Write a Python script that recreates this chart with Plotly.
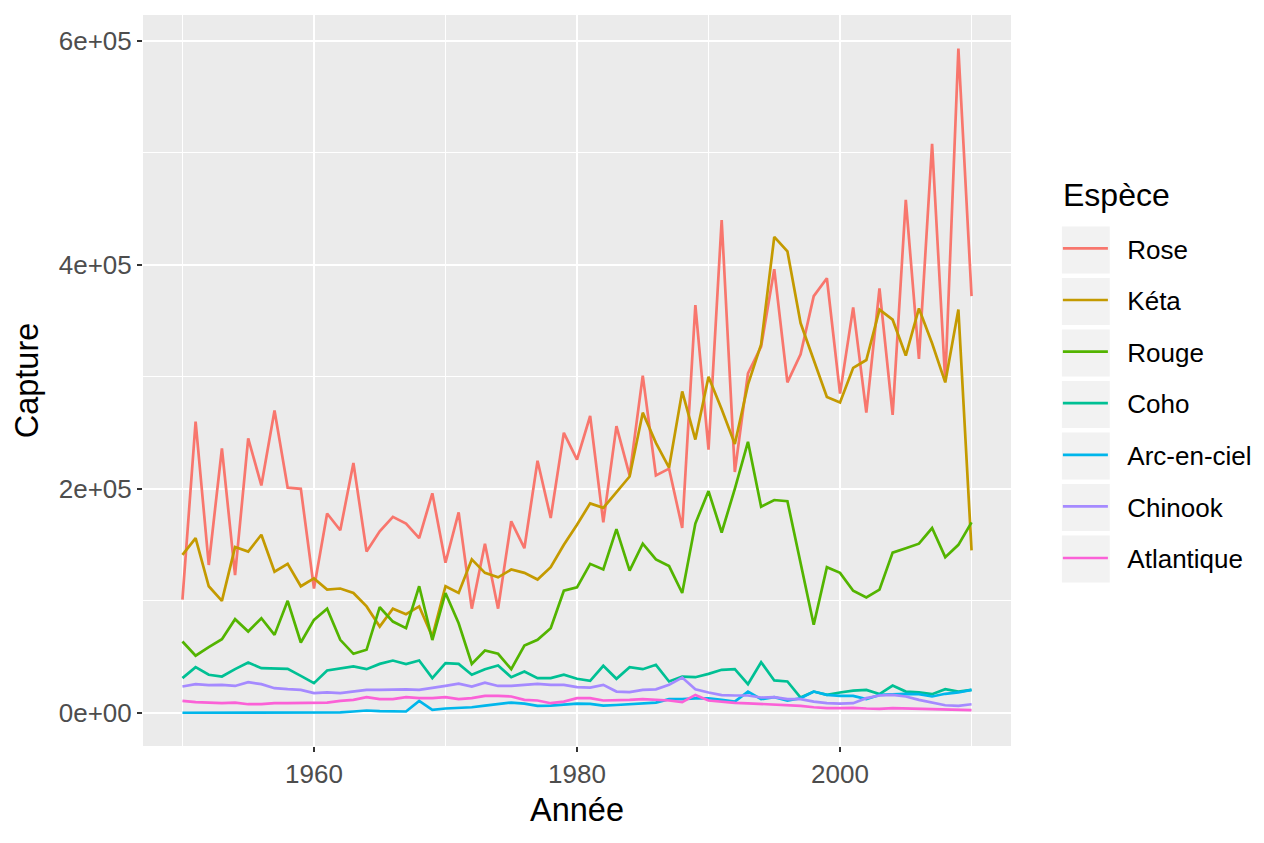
import plotly.graph_objects as go

years = list(range(1950, 2011))

species = ["Rose", "Kéta", "Rouge", "Coho", "Arc-en-ciel", "Chinook", "Atlantique"]
colors = ["#F8766D", "#C49A00", "#53B400", "#00C094", "#00B6EB", "#A58AFF", "#FB61D7"]

rose = [101000, 260000, 132000, 236000, 123000, 245000, 203000, 270000, 201000, 200000,
        111000, 178000, 163000, 223000, 144000, 162000, 175000, 169000, 156000, 196000,
        134000, 179000, 93000, 151000, 93000, 171000, 147000, 225000, 174000, 250000,
        226000, 265000, 170000, 256000, 212000, 301000, 212000, 218000, 165000, 364000,
        235000, 440000, 215000, 303000, 327000, 396000, 295000, 320000, 372000, 388000,
        285000, 362000, 268000, 379000, 266000, 458000, 316000, 508000, 296000, 593000,
        372000]

keta = [141000, 156000, 113000, 100000, 148000, 144000, 159000, 126000, 133000, 113000,
        120000, 110000, 111000, 107000, 95000, 77000, 93000, 88000, 95000, 68000,
        113000, 107000, 137000, 125000, 121000, 128000, 125000, 119000, 130000, 150000,
        168000, 187000, 183000, 197000, 211000, 268000, 241000, 219000, 287000, 244000,
        300000, 271000, 240000, 293000, 329000, 425000, 412000, 348000, 314000, 282000,
        277000, 308000, 315000, 360000, 351000, 319000, 361000, 330000, 295000, 360000,
        145000]

rouge = [63700, 51000, 58600, 65800, 83600, 72600, 84500, 69600, 100000, 62800,
         83000, 92900, 65200, 52700, 56300, 94300, 81500, 75600, 113000, 65000,
         107000, 80000, 43700, 55700, 52700, 39000, 60000, 65200, 75600, 109000,
         112000, 133000, 128000, 164000, 127000, 151000, 137000, 131000, 107000, 169000,
         198000, 161000, 200000, 242000, 184000, 190000, 189000, 135000, 78600, 130000,
         125000, 109000, 103000, 110000, 143000, 147000, 151000, 165000, 139000, 150000,
         170000]

coho = [31000, 40800, 34000, 32400, 39000, 44900, 39900, 39900, 39300, 33000,
        26500, 37800, 39900, 41400, 39000, 43700, 46700, 43500, 46700, 31000,
        44300, 43700, 34000, 39000, 42300, 31800, 36900, 31000, 31000, 34000,
        30400, 28600, 42000, 30400, 40800, 39000, 42900, 28000, 32400, 31800,
        34800, 38400, 39000, 25600, 45200, 28900, 28000, 13700, 19000, 16000,
        18200, 19900, 20500, 16700, 24400, 19000, 18200, 16700, 21100, 19000,
        20500]

arc_en_ciel = [100, 100, 150, 150, 200, 200, 200, 200, 250, 250,
               300, 300, 400, 1200, 2100, 1500, 1200, 1200, 10700, 2700,
               3900, 4500, 5000, 6500, 7700, 9200, 8300, 6200, 6500, 7700,
               8300, 8000, 6500, 7000, 7700, 8300, 9200, 12200, 12200, 13000,
               13000, 11600, 10000, 19000, 12200, 14000, 11000, 13000, 19000, 16000,
               15200, 15200, 12200, 16000, 16700, 17000, 16700, 14600, 17000, 18200,
               20500]

chinook = [23500, 25600, 24700, 25000, 24000, 27400, 25600, 22000, 21100, 20500,
           17600, 18200, 17600, 19000, 20500, 20500, 21000, 21000, 20500, 22000,
           24000, 26000, 23500, 27000, 24000, 24000, 25000, 25900, 25000, 25000,
           22900, 22600, 25000, 19000, 18500, 20500, 21000, 25000, 31500, 21000,
           18200, 15800, 15500, 15500, 13700, 14000, 12200, 12200, 10000, 8600,
           8300, 8600, 13100, 15500, 16000, 14600, 11600, 9200, 6800, 6300,
           7700]

atlantique = [10700, 9500, 9200, 8600, 9200, 7700, 7700, 8600, 8600, 8600,
              8600, 9200, 10700, 11600, 14000, 12200, 12200, 14000, 13100, 13100,
              14000, 12200, 13100, 15200, 15200, 14600, 11600, 11000, 8600, 10000,
              13100, 13100, 11000, 11000, 11600, 12200, 11600, 11000, 9500, 16000,
              11000, 9800, 8900, 8500, 8000, 7100, 6500, 6200, 5000, 4200,
              4200, 4500, 3900, 3600, 4200, 3900, 3300, 3000, 2700, 2400,
              2400]

series = [rose, keta, rouge, coho, arc_en_ciel, chinook, atlantique]

y_tickvals = [0, 200000, 400000, 600000]
y_ticktext = ["0e+00", "2e+05", "4e+05", "6e+05"]
y_minor = [100000, 300000, 500000]
x_tickvals = [1960, 1980, 2000]
x_minor = [1950, 1970, 1990, 2010]

FONT = "Liberation Sans, Arial, sans-serif"
NB = "\u00a0\u00a0"

fig = go.Figure()
for name, vals, col in zip(species, series, colors):
    fig.add_trace(go.Scatter(
        x=years, y=vals, mode="lines", name=NB + name, legendgroup=name,
        line=dict(color=col, width=2.7),
    ))

# page offset (browser body margin) compensation
OFF = 8
FW, FH = 1264 - OFF, 843 - OFF
L, R, T, B = 143 - OFF, 1013 - OFF, 15 - OFF, 746 - OFF
W, H = R - L, B - T

# legend key backgrounds (ggplot style)
for i in range(len(species)):
    cy = 250 - OFF + 51.5 * i
    fig.add_shape(type="rect", xref="paper", yref="paper",
                  x0=(1064 - OFF - L) / W, x1=(1112 - OFF - L) / W,
                  y0=(B - (cy + 23.5)) / H, y1=(B - (cy - 23.5)) / H,
                  fillcolor="#F2F2F2", line=dict(width=0), layer="below")

fig.add_annotation(text="Espèce", xref="paper", yref="paper",
                   x=(1063 - OFF - L) / W, y=(B - (195 - OFF)) / H,
                   xanchor="left", yanchor="middle", showarrow=False,
                   font=dict(size=32, color="black", family=FONT))

fig.update_layout(
    width=FW, height=FH,
    margin=dict(l=L, r=FW - R, t=T, b=FH - B),
    paper_bgcolor="white",
    plot_bgcolor="#EBEBEB",
    font=dict(family=FONT, color="black"),
    showlegend=True,
    legend=dict(
        font=dict(size=26, color="black"),
        x=(1060 - OFF - L) / W, xanchor="left",
        y=(B - (225 - OFF)) / H, yanchor="top",
        bgcolor="rgba(0,0,0,0)",
        tracegroupgap=14.8,
        itemwidth=45,
    ),
    xaxis=dict(
        range=[1947, 2013],
        tickmode="array", tickvals=x_tickvals,
        showgrid=True, gridcolor="white", gridwidth=2,
        zeroline=False, showline=False,
        ticks="outside", ticklen=5, tickwidth=1.5, tickcolor="#333333",
        tickfont=dict(size=26, color="#4D4D4D"),
        title=dict(text="Année", font=dict(size=32.5, color="black"), standoff=10),
        minor=dict(tickmode="array", tickvals=x_minor, showgrid=True,
                   gridcolor="white", gridwidth=1, ticklen=0),
    ),
    yaxis=dict(
        range=[-29600, 623000],
        tickmode="array", tickvals=y_tickvals, ticktext=y_ticktext,
        showgrid=True, gridcolor="white", gridwidth=2,
        zeroline=False, showline=False,
        ticks="outside", ticklen=5, tickwidth=1.5, tickcolor="#333333",
        tickfont=dict(size=26, color="#4D4D4D"),
        title=dict(text="Capture", font=dict(size=32.5, color="black"), standoff=10),
        minor=dict(tickmode="array", tickvals=y_minor, showgrid=True,
                   gridcolor="white", gridwidth=1, ticklen=0),
    ),
)

fig.write_html("out.html")
